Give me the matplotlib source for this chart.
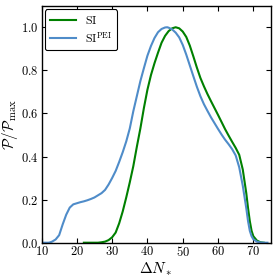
import matplotlib
matplotlib.use("Agg")
import matplotlib.pyplot as plt
from matplotlib.ticker import FuncFormatter, MultipleLocator

plt.rcParams['mathtext.fontset'] = 'cm'
plt.rcParams['font.family'] = 'serif'

si_x = [22, 24, 26, 27, 28, 29, 30, 31, 32, 33, 34, 35, 36, 37, 38, 39, 40, 41, 42, 43,
        44, 45, 46, 47, 48, 49, 50, 51, 52, 53, 54, 55, 56, 57, 58, 59, 60, 61, 62, 63,
        64, 65, 66, 67, 68, 68.5, 69, 69.5, 70, 71, 72, 73]
si_y = [0, 0, 0, 0.002, 0.005, 0.012, 0.025, 0.047, 0.09, 0.145, 0.21, 0.28, 0.355, 0.445,
        0.53, 0.625, 0.71, 0.778, 0.833, 0.882, 0.928, 0.96, 0.982, 0.995, 1.0, 0.995, 0.98,
        0.955, 0.915, 0.865, 0.813, 0.765, 0.726, 0.69, 0.657, 0.625, 0.593, 0.56, 0.527,
        0.497, 0.468, 0.44, 0.408, 0.34, 0.23, 0.16, 0.1, 0.055, 0.03, 0.01, 0.002, 0]

pei_x = [10, 12, 12.5, 13, 14, 15, 16, 17, 18, 19, 20, 21, 22, 23, 24, 25, 26, 27, 28, 29,
         30, 31, 32, 33, 34, 35, 36, 37, 38, 39, 40, 41, 42, 43, 44, 45, 45.6, 46, 47, 48,
         49, 50, 51, 52, 53, 54, 55, 56, 57, 58, 59, 60, 61, 62, 63, 64, 65, 66, 67, 68,
         68.5, 69, 69.5, 70, 71, 72, 73, 74]
pei_y = [0, 0, 0.002, 0.005, 0.015, 0.035, 0.085, 0.13, 0.163, 0.178, 0.183, 0.188, 0.192,
         0.197, 0.203, 0.21, 0.22, 0.23, 0.245, 0.27, 0.3, 0.333, 0.375, 0.42, 0.47, 0.53,
         0.61, 0.68, 0.75, 0.81, 0.868, 0.913, 0.95, 0.977, 0.992, 0.999, 1.0, 0.998, 0.99,
         0.975, 0.953, 0.918, 0.873, 0.823, 0.773, 0.724, 0.68, 0.643, 0.612, 0.582, 0.555,
         0.528, 0.502, 0.478, 0.457, 0.434, 0.405, 0.35, 0.265, 0.16, 0.1, 0.055, 0.03, 0.016,
         0.005, 0.001, 0, 0]

labels = [r'$\mathrm{SI}$', r'$\mathrm{SI}^{\mathrm{PEI}}$']

fig = plt.figure(figsize=(2.77, 2.80), dpi=100)
ax = fig.add_axes([41.5 / 277, 1 - 242.7 / 280, (271 - 41.5) / 277, (242.7 - 5.7) / 280])

ax.plot(si_x, si_y, color='#008000', lw=1.5, label=labels[0])
ax.plot(pei_x, pei_y, color='#4f8cc9', lw=1.5, label=labels[1])

ax.set_xlim(10, 75)
ax.set_ylim(0, 1.1)
ax.xaxis.set_major_locator(MultipleLocator(10))
ax.yaxis.set_major_locator(MultipleLocator(0.2))
ax.xaxis.set_major_formatter(FuncFormatter(lambda v, p: r'$%d$' % v))
ax.yaxis.set_major_formatter(FuncFormatter(lambda v, p: r'$%.1f$' % v))
ax.tick_params(direction='in', top=True, right=True, length=3.5, width=0.8,
               labelsize=9, pad=2)
for s in ax.spines.values():
    s.set_linewidth(1.0)

ax.set_xlabel(r'$\Delta N_*$', fontsize=11, labelpad=1)
ax.set_ylabel(r'$\mathcal{P}/\mathcal{P}_{\rm max}$', fontsize=11)
ax.yaxis.set_label_coords(-0.095, 0.5)

leg = ax.legend(loc='upper left', fontsize=8.5, frameon=True, fancybox=True,
                handlelength=2.2, borderpad=0.4, labelspacing=0.3, borderaxespad=0.3)
leg.get_frame().set_edgecolor('black')
leg.get_frame().set_linewidth(0.8)
leg.get_frame().set_alpha(1)

fig.savefig('out.png', dpi=100)
